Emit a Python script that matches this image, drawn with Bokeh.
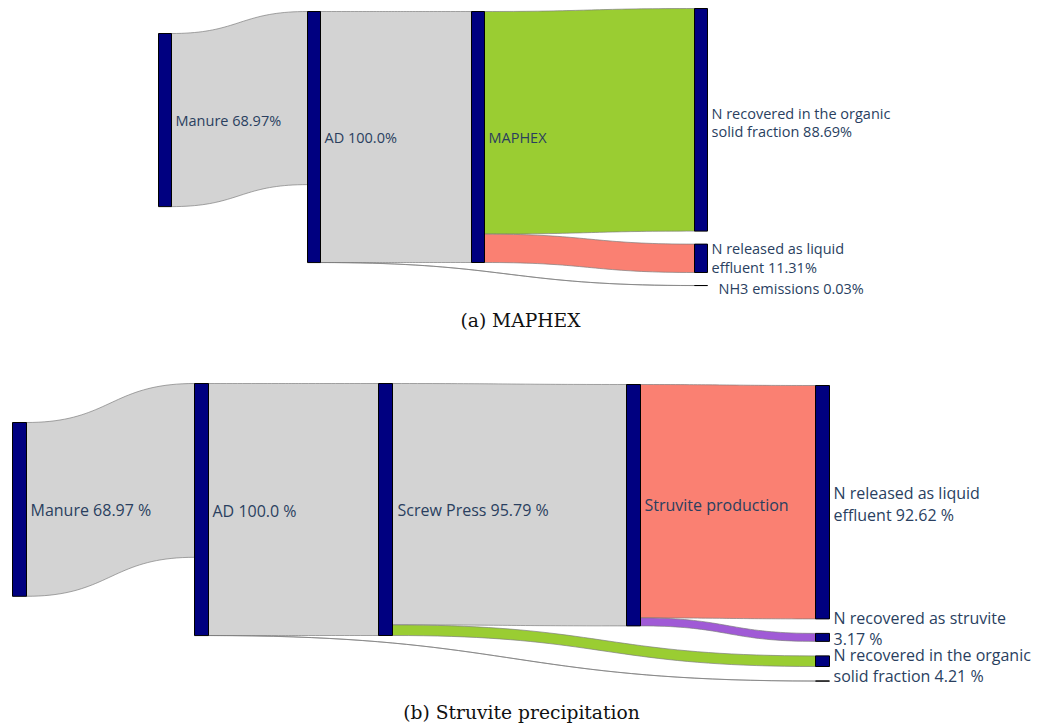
import numpy as np
from bokeh.plotting import figure
from bokeh.models import Range1d, ColumnDataSource
from bokeh.embed import file_html
from bokeh.resources import INLINE
from bokeh.core.properties import value

# ---------------- data ----------------
# (a) MAPHEX
a_labels = ["Manure 68.97%", "AD 100.0%", "MAPHEX",
            "N recovered in the organic\nsolid fraction 88.69%",
            "N released as liquid\neffluent 11.31%",
            "NH3 emissions 0.03%"]
a_source = [0, 1, 2, 2, 1]
a_target = [1, 2, 3, 4, 5]
a_value = [68.97, 100.0, 88.69, 11.31, 0.03]
a_link_color = ["#d3d3d3", "#d3d3d3", "#9acd32", "#fa8072", "#d3d3d3"]

# (b) Struvite precipitation
b_labels = ["Manure 68.97 %", "AD 100.0 %", "Screw Press 95.79 %",
            "Struvite production",
            "N released as liquid\neffluent 92.62 %",
            "N recovered as struvite\n3.17 %",
            "N recovered in the organic\nsolid fraction 4.21 %",
            ""]
b_source = [0, 1, 2, 2, 3, 3, 1]
b_target = [1, 2, 3, 6, 4, 5, 7]
b_value = [68.97, 100.0, 95.79, 4.21, 92.62, 3.17, 0.03]
b_link_color = ["#d3d3d3", "#d3d3d3", "#d3d3d3", "#9acd32",
                "#fa8072", "#a05ad6", "#d3d3d3"]

captions = ["(a) MAPHEX", "(b) Struvite precipitation"]

# ---------------- layout ----------------
W, H = 1038, 725
NODE_COLOR = "#000080"
TEXT_COLOR = "#2a3f5f"

a_layout = dict(
    col=[0, 1, 2, 3, 3, 3],
    col_x=[158, 307, 471, 694],
    col_top=[33, 11, 11, 8],
    node_w=13, pad=13, scale=2.51,
    label_dx=[4, 4, 4, 4, 4, 11],
    label_dy=[0, 0, 0, 2.5, -0.5, 3],
    font_size="14.5px", line_height=0.97,
)
b_layout = dict(
    col=[0, 1, 2, 3, 4, 4, 4, 4],
    col_x=[12, 194, 378, 626, 815],
    col_top=[422, 383, 383, 384, 385],
    node_w=14, pad=14.5, scale=2.52,
    label_dx=[4, 4, 5, 4, 4, 4, 4, 4],
    label_dy=[1, 1, 0, 0, 2, -9, 4.5, 0],
    font_size="16px", line_height=0.98,
)


def bezier(p0, p1, p2, p3, n=40):
    t = np.linspace(0, 1, n)[:, None]
    pts = ((1 - t) ** 3) * p0 + 3 * ((1 - t) ** 2) * t * p1 \
        + 3 * (1 - t) * t ** 2 * p2 + t ** 3 * p3
    return pts[:, 0], pts[:, 1]


def draw_sankey(p, labels, source, target, vals, link_colors, lay):
    n = len(labels)
    inflow = np.zeros(n)
    outflow = np.zeros(n)
    for s, t, v in zip(source, target, vals):
        outflow[s] += v
        inflow[t] += v
    node_val = np.maximum(inflow, outflow)
    sc = lay["scale"]
    nw = lay["node_w"]

    # stack nodes vertically within each column
    top = np.zeros(n)
    left = np.zeros(n)
    cursor = {}
    for i in range(n):
        c = lay["col"][i]
        if c not in cursor:
            cursor[c] = lay["col_top"][c]
        top[i] = cursor[c]
        left[i] = lay["col_x"][c]
        cursor[c] = top[i] + node_val[i] * sc + lay["pad"]
    height = node_val * sc

    # link offsets at each end, ordered by the vertical position of the other end
    order = range(len(vals))
    out_off = {i: top[i] for i in range(n)}
    in_off = {i: top[i] for i in range(n)}
    y_src = [0.0] * len(vals)
    y_tgt = [0.0] * len(vals)
    for k in sorted(order, key=lambda k: (source[k], top[target[k]])):
        y_src[k] = out_off[source[k]]
        out_off[source[k]] += vals[k] * sc
    for k in sorted(order, key=lambda k: (target[k], top[source[k]])):
        y_tgt[k] = in_off[target[k]]
        in_off[target[k]] += vals[k] * sc

    xs, ys = [], []
    for k in order:
        x0 = left[source[k]] + nw
        x1 = left[target[k]]
        xm = 0.5 * (x0 + x1)
        th = vals[k] * sc
        tx, ty = bezier(np.array([x0, y_src[k]]), np.array([xm, y_src[k]]),
                        np.array([xm, y_tgt[k]]), np.array([x1, y_tgt[k]]))
        bx, by = bezier(np.array([x1, y_tgt[k] + th]), np.array([xm, y_tgt[k] + th]),
                        np.array([xm, y_src[k] + th]), np.array([x0, y_src[k] + th]))
        xs.append(list(np.concatenate([tx, bx])))
        ys.append(list(np.concatenate([ty, by])))
    p.patches(xs=xs, ys=ys, fill_color=link_colors, fill_alpha=1.0,
              line_color="#7a7a7a", line_width=0.9, line_alpha=0.75)

    p.quad(left=left, right=left + nw, top=top, bottom=top + height,
           fill_color=NODE_COLOR, line_color="black", line_width=1)

    lx = left + nw + np.array(lay["label_dx"])
    ly = top + height / 2 + np.array(lay["label_dy"])
    src = ColumnDataSource(dict(x=lx, y=ly, text=labels))
    p.text(x="x", y="y", text="text", source=src,
           text_font=value("Open Sans"), text_font_size=lay["font_size"],
           text_color=TEXT_COLOR, text_align="left", text_baseline="middle",
           text_line_height=lay["line_height"])


p = figure(width=W, height=H, x_range=Range1d(0, W), y_range=Range1d(H, 0),
           output_backend="svg", toolbar_location=None, min_border=0)
p.axis.visible = False
p.grid.visible = False
p.outline_line_color = None
p.background_fill_color = "white"
p.border_fill_color = "white"

draw_sankey(p, a_labels, a_source, a_target, a_value, a_link_color, a_layout)
draw_sankey(p, b_labels, b_source, b_target, b_value, b_link_color, b_layout)

cap_src = ColumnDataSource(dict(x=[520, 521], y=[320, 712], text=captions))
p.text(x="x", y="y", text="text", source=cap_src,
       text_font=value("DejaVu Serif"), text_font_size="18.7px",
       text_color="#111111", text_align="center", text_baseline="middle")

open("out.html", "w").write(file_html(p, INLINE))
